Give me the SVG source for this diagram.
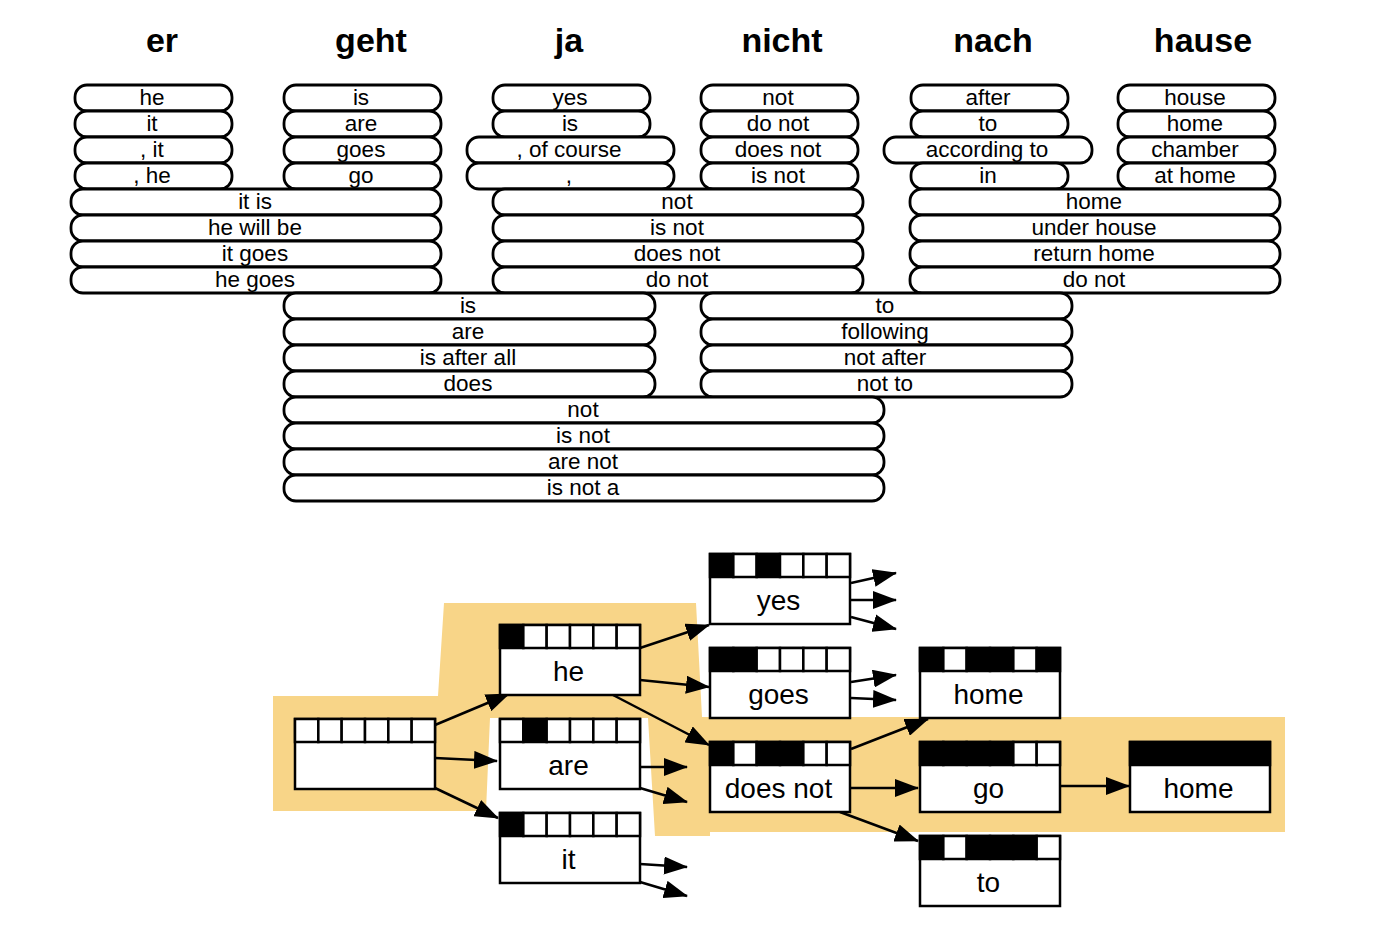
<svg xmlns="http://www.w3.org/2000/svg" width="1374" height="928" viewBox="0 0 1374 928">
<style>
.hd{font-family:"Liberation Sans",Arial,sans-serif;font-weight:bold;font-size:34px;text-anchor:middle;fill:#000}
.p rect{fill:#fff;stroke:#000;stroke-width:2.8}
.p text{font-family:"Liberation Sans",Arial,sans-serif;font-size:22.5px;text-anchor:middle;fill:#000}
.n rect{stroke:#000;stroke-width:2.5}
.n .w{fill:#fff}
.n .b{fill:#000}
.n .o{fill:#fff}
.n text{font-family:"Liberation Sans",Arial,sans-serif;font-size:28px;text-anchor:middle;fill:#000}
.c line{stroke:#000;stroke-width:2.5;marker-end:url(#ah)}
</style>
<defs>
<marker id="ah" markerUnits="userSpaceOnUse" markerWidth="24" markerHeight="18" refX="23" refY="9" orient="auto">
<path d="M0,0 L24,9 L0,18 z" fill="#000"/>
</marker>
</defs>
<rect width="1374" height="928" fill="#fff"/>
<g id="headers">
<text class="hd" x="162" y="52">er</text>
<text class="hd" x="371" y="52">geht</text>
<text class="hd" x="569" y="52">ja</text>
<text class="hd" x="782" y="52">nicht</text>
<text class="hd" x="993" y="52">nach</text>
<text class="hd" x="1203" y="52">hause</text>
</g>
<g id="table" class="p">
<g id="er"><rect x="75" y="85" width="157" height="26" rx="12"/><text x="152" y="104.5">he</text>
<rect x="75" y="111" width="157" height="26" rx="12"/><text x="152" y="130.5">it</text>
<rect x="75" y="137" width="157" height="26" rx="12"/><text x="152" y="156.5">, it</text>
<rect x="75" y="163" width="157" height="26" rx="12"/><text x="152" y="182.5">, he</text></g>
<g id="geht"><rect x="284" y="85" width="157" height="26" rx="12"/><text x="361" y="104.5">is</text>
<rect x="284" y="111" width="157" height="26" rx="12"/><text x="361" y="130.5">are</text>
<rect x="284" y="137" width="157" height="26" rx="12"/><text x="361" y="156.5">goes</text>
<rect x="284" y="163" width="157" height="26" rx="12"/><text x="361" y="182.5">go</text></g>
<g id="ja"><rect x="493" y="85" width="157" height="26" rx="12"/><text x="570" y="104.5">yes</text>
<rect x="493" y="111" width="157" height="26" rx="12"/><text x="570" y="130.5">is</text>
<rect x="467" y="137" width="207" height="26" rx="12"/><text x="569" y="156.5">, of course</text>
<rect x="467" y="163" width="207" height="26" rx="12"/><text x="569" y="182.5">,</text></g>
<g id="nicht"><rect x="701" y="85" width="157" height="26" rx="12"/><text x="778" y="104.5">not</text>
<rect x="701" y="111" width="157" height="26" rx="12"/><text x="778" y="130.5">do not</text>
<rect x="701" y="137" width="157" height="26" rx="12"/><text x="778" y="156.5">does not</text>
<rect x="701" y="163" width="157" height="26" rx="12"/><text x="778" y="182.5">is not</text></g>
<g id="nach"><rect x="911" y="85" width="157" height="26" rx="12"/><text x="988" y="104.5">after</text>
<rect x="911" y="111" width="157" height="26" rx="12"/><text x="988" y="130.5">to</text>
<rect x="884" y="137" width="208" height="26" rx="12"/><text x="987" y="156.5">according to</text>
<rect x="911" y="163" width="157" height="26" rx="12"/><text x="988" y="182.5">in</text></g>
<g id="hause"><rect x="1118" y="85" width="157" height="26" rx="12"/><text x="1195" y="104.5">house</text>
<rect x="1118" y="111" width="157" height="26" rx="12"/><text x="1195" y="130.5">home</text>
<rect x="1118" y="137" width="157" height="26" rx="12"/><text x="1195" y="156.5">chamber</text>
<rect x="1118" y="163" width="157" height="26" rx="12"/><text x="1195" y="182.5">at home</text></g>
<g id="er-geht"><rect x="71" y="189" width="370" height="26" rx="12"/><text x="255" y="208.5">it is</text>
<rect x="71" y="215" width="370" height="26" rx="12"/><text x="255" y="234.5">he will be</text>
<rect x="71" y="241" width="370" height="26" rx="12"/><text x="255" y="260.5">it goes</text>
<rect x="71" y="267" width="370" height="26" rx="12"/><text x="255" y="286.5">he goes</text></g>
<g id="ja-nicht"><rect x="493" y="189" width="370" height="26" rx="12"/><text x="677" y="208.5">not</text>
<rect x="493" y="215" width="370" height="26" rx="12"/><text x="677" y="234.5">is not</text>
<rect x="493" y="241" width="370" height="26" rx="12"/><text x="677" y="260.5">does not</text>
<rect x="493" y="267" width="370" height="26" rx="12"/><text x="677" y="286.5">do not</text></g>
<g id="nach-hause"><rect x="910" y="189" width="370" height="26" rx="12"/><text x="1094" y="208.5">home</text>
<rect x="910" y="215" width="370" height="26" rx="12"/><text x="1094" y="234.5">under house</text>
<rect x="910" y="241" width="370" height="26" rx="12"/><text x="1094" y="260.5">return home</text>
<rect x="910" y="267" width="370" height="26" rx="12"/><text x="1094" y="286.5">do not</text></g>
<g id="geht-ja"><rect x="284" y="293" width="371" height="26" rx="12"/><text x="468" y="312.5">is</text>
<rect x="284" y="319" width="371" height="26" rx="12"/><text x="468" y="338.5">are</text>
<rect x="284" y="345" width="371" height="26" rx="12"/><text x="468" y="364.5">is after all</text>
<rect x="284" y="371" width="371" height="26" rx="12"/><text x="468" y="390.5">does</text></g>
<g id="nicht-nach"><rect x="701" y="293" width="371" height="26" rx="12"/><text x="885" y="312.5">to</text>
<rect x="701" y="319" width="371" height="26" rx="12"/><text x="885" y="338.5">following</text>
<rect x="701" y="345" width="371" height="26" rx="12"/><text x="885" y="364.5">not after</text>
<rect x="701" y="371" width="371" height="26" rx="12"/><text x="885" y="390.5">not to</text></g>
<g id="geht-nicht"><rect x="284" y="397" width="600" height="26" rx="12"/><text x="583" y="416.5">not</text>
<rect x="284" y="423" width="600" height="26" rx="12"/><text x="583" y="442.5">is not</text>
<rect x="284" y="449" width="600" height="26" rx="12"/><text x="583" y="468.5">are not</text>
<rect x="284" y="475" width="600" height="26" rx="12"/><text x="583" y="494.5">is not a</text></g>
</g>
<path id="highlight" d="M273,696 L438,696 L444,603 L696,603 L702,717 L1285,717 L1285,832 L710,832 L710,836 L655,836 L648,718 L490,718 L486,811 L273,811 Z" fill="#F8D588"/>
<g id="connectors" class="c">
<line x1="435" y1="725" x2="509" y2="694"/>
<line x1="435" y1="758" x2="497" y2="761"/>
<line x1="435" y1="788" x2="498" y2="818"/>
<line x1="640" y1="648" x2="709" y2="625"/>
<line x1="640" y1="680" x2="709" y2="687"/>
<line x1="613" y1="695" x2="709" y2="745"/>
<line x1="640" y1="767" x2="687" y2="767"/>
<line x1="640" y1="788" x2="687" y2="802"/>
<line x1="640" y1="864" x2="687" y2="867"/>
<line x1="640" y1="882" x2="687" y2="896"/>
<line x1="851" y1="583" x2="896" y2="573"/>
<line x1="851" y1="600" x2="896" y2="600"/>
<line x1="851" y1="617" x2="896" y2="629"/>
<line x1="851" y1="682" x2="896" y2="675"/>
<line x1="851" y1="698" x2="896" y2="700"/>
<line x1="851" y1="749" x2="928" y2="719"/>
<line x1="851" y1="788" x2="918" y2="788"/>
<line x1="840" y1="812" x2="918" y2="841"/>
<line x1="1061" y1="786" x2="1129" y2="786"/>
</g>
<g id="n-start" class="n"><rect class="o" x="295" y="719" width="140" height="70"/>
<rect class="w" x="295" y="719" width="23.33" height="23"/><rect class="w" x="318.33" y="719" width="23.33" height="23"/><rect class="w" x="341.67" y="719" width="23.33" height="23"/><rect class="w" x="365" y="719" width="23.33" height="23"/><rect class="w" x="388.33" y="719" width="23.33" height="23"/><rect class="w" x="411.67" y="719" width="23.33" height="23"/></g>
<g id="n-he" class="n"><rect class="o" x="500" y="625" width="140" height="70"/>
<rect class="b" x="500" y="625" width="23.33" height="23"/><rect class="w" x="523.33" y="625" width="23.33" height="23"/><rect class="w" x="546.67" y="625" width="23.33" height="23"/><rect class="w" x="570" y="625" width="23.33" height="23"/><rect class="w" x="593.33" y="625" width="23.33" height="23"/><rect class="w" x="616.67" y="625" width="23.33" height="23"/>
<text x="568.5" y="681">he</text></g>
<g id="n-are" class="n"><rect class="o" x="500" y="719" width="140" height="70"/>
<rect class="w" x="500" y="719" width="23.33" height="23"/><rect class="b" x="523.33" y="719" width="23.33" height="23"/><rect class="w" x="546.67" y="719" width="23.33" height="23"/><rect class="w" x="570" y="719" width="23.33" height="23"/><rect class="w" x="593.33" y="719" width="23.33" height="23"/><rect class="w" x="616.67" y="719" width="23.33" height="23"/>
<text x="568.5" y="775">are</text></g>
<g id="n-it" class="n"><rect class="o" x="500" y="813" width="140" height="70"/>
<rect class="b" x="500" y="813" width="23.33" height="23"/><rect class="w" x="523.33" y="813" width="23.33" height="23"/><rect class="w" x="546.67" y="813" width="23.33" height="23"/><rect class="w" x="570" y="813" width="23.33" height="23"/><rect class="w" x="593.33" y="813" width="23.33" height="23"/><rect class="w" x="616.67" y="813" width="23.33" height="23"/>
<text x="568.5" y="869">it</text></g>
<g id="n-yes" class="n"><rect class="o" x="710" y="554" width="140" height="70"/>
<rect class="b" x="710" y="554" width="23.33" height="23"/><rect class="w" x="733.33" y="554" width="23.33" height="23"/><rect class="b" x="756.67" y="554" width="23.33" height="23"/><rect class="w" x="780" y="554" width="23.33" height="23"/><rect class="w" x="803.33" y="554" width="23.33" height="23"/><rect class="w" x="826.67" y="554" width="23.33" height="23"/>
<text x="778.5" y="610">yes</text></g>
<g id="n-goes" class="n"><rect class="o" x="710" y="648" width="140" height="70"/>
<rect class="b" x="710" y="648" width="23.33" height="23"/><rect class="b" x="733.33" y="648" width="23.33" height="23"/><rect class="w" x="756.67" y="648" width="23.33" height="23"/><rect class="w" x="780" y="648" width="23.33" height="23"/><rect class="w" x="803.33" y="648" width="23.33" height="23"/><rect class="w" x="826.67" y="648" width="23.33" height="23"/>
<text x="778.5" y="704">goes</text></g>
<g id="n-doesnot" class="n"><rect class="o" x="710" y="742" width="140" height="70"/>
<rect class="b" x="710" y="742" width="23.33" height="23"/><rect class="w" x="733.33" y="742" width="23.33" height="23"/><rect class="b" x="756.67" y="742" width="23.33" height="23"/><rect class="b" x="780" y="742" width="23.33" height="23"/><rect class="w" x="803.33" y="742" width="23.33" height="23"/><rect class="w" x="826.67" y="742" width="23.33" height="23"/>
<text x="778.5" y="798">does not</text></g>
<g id="n-home1" class="n"><rect class="o" x="920" y="648" width="140" height="70"/>
<rect class="b" x="920" y="648" width="23.33" height="23"/><rect class="w" x="943.33" y="648" width="23.33" height="23"/><rect class="b" x="966.67" y="648" width="23.33" height="23"/><rect class="b" x="990" y="648" width="23.33" height="23"/><rect class="w" x="1013.33" y="648" width="23.33" height="23"/><rect class="b" x="1036.67" y="648" width="23.33" height="23"/>
<text x="988.5" y="704">home</text></g>
<g id="n-go" class="n"><rect class="o" x="920" y="742" width="140" height="70"/>
<rect class="b" x="920" y="742" width="23.33" height="23"/><rect class="b" x="943.33" y="742" width="23.33" height="23"/><rect class="b" x="966.67" y="742" width="23.33" height="23"/><rect class="b" x="990" y="742" width="23.33" height="23"/><rect class="w" x="1013.33" y="742" width="23.33" height="23"/><rect class="w" x="1036.67" y="742" width="23.33" height="23"/>
<text x="988.5" y="798">go</text></g>
<g id="n-to" class="n"><rect class="o" x="920" y="836" width="140" height="70"/>
<rect class="b" x="920" y="836" width="23.33" height="23"/><rect class="w" x="943.33" y="836" width="23.33" height="23"/><rect class="b" x="966.67" y="836" width="23.33" height="23"/><rect class="b" x="990" y="836" width="23.33" height="23"/><rect class="b" x="1013.33" y="836" width="23.33" height="23"/><rect class="w" x="1036.67" y="836" width="23.33" height="23"/>
<text x="988.5" y="892">to</text></g>
<g id="n-home2" class="n"><rect class="o" x="1130" y="742" width="140" height="70"/>
<rect class="b" x="1130" y="742" width="140" height="23"/>
<text x="1198.5" y="798">home</text></g>
</svg>
